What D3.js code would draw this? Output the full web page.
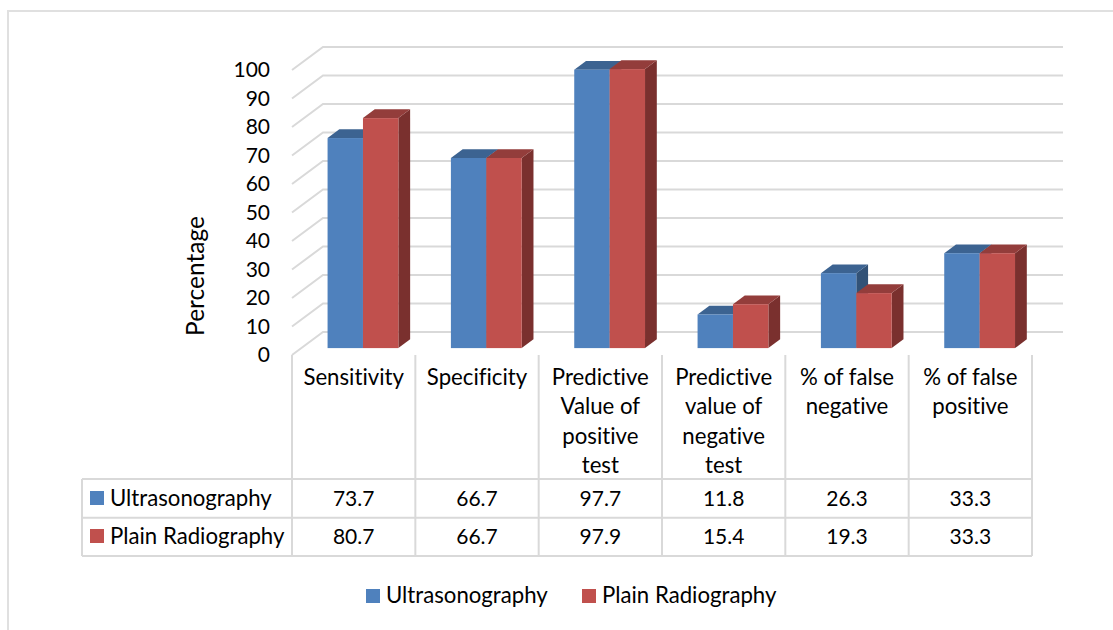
<!DOCTYPE html>
<html>
<head>
<meta charset="UTF-8">
<title>Ultrasonography vs Plain Radiography</title>
<style>
    html, body { margin: 0; padding: 0; background: #ffffff; }
    svg { display: block; font-family: Lato, sans-serif; font-variant-ligatures: none; }
    text { fill: #000000; }
</style>
</head>
<body>
<svg id="chart" width="1113" height="630"></svg>
<script src="https://d3js.org/d3.v7.min.js"></script>
<script>
    var categories = [
        ["Sensitivity"],
        ["Specificity"],
        ["Predictive", "Value of", "positive", "test"],
        ["Predictive", "value of", "negative", "test"],
        ["% of false", "negative"],
        ["% of false", "positive"]
    ];
    var seriesNames = ["Ultrasonography", "Plain Radiography"];
    var ultrasonography = [73.7, 66.7, 97.7, 11.8, 26.3, 33.3];
    var plainRadiography = [80.7, 66.7, 97.9, 15.4, 19.3, 33.3];
    var tickValues = [0, 10, 20, 30, 40, 50, 60, 70, 80, 90, 100];

    var series = [ultrasonography, plainRadiography];
    var frontColors = ["#4f81bd", "#c0504d"];
    var topColors = ["#3c6391", "#933d3b"];
    var sideColors = ["#325277", "#7a302e"];
    var gridColor = "#d9d9d9";
    var numberSize = 21;
    var labelSize = 22.2;

    var svg = d3.select("#chart");

    // outer frame of the picture, open on the right
    svg.append("path")
        .attr("d", "M8,630V11H1113")
        .attr("fill", "none")
        .attr("stroke", "#e0e0e0")
        .attr("stroke-width", 2);

    var x = d3.scaleBand().domain(d3.range(6)).range([292, 1032]);
    var y = d3.scaleLinear().domain([0, 100]).range([355, 70]);

    // depth: 0 is the front of the floor, 1 the back wall
    var depthX = 31, depthY = 23;
    function px(v, d) { return v + depthX * d; }
    function py(v, d) { return y(v) - depthY * d; }

    // walls
    var grid = svg.append("g").attr("fill", "none").attr("stroke", gridColor).attr("stroke-width", 2);
    tickValues.forEach(function(t) {
        grid.append("path")
            .attr("d", "M" + px(292, 0) + "," + py(t, 0) + "L" + px(292, 1) + "," + py(t, 1) + "H1063");
    });

    // bars
    var front = 0.3, back = 0.68;
    var barW = x.bandwidth() * 0.287;
    categories.forEach(function(c, i) {
        // red sits after blue so it covers the blue side face
        series.forEach(function(s, k) {
            var x0 = px(x(i) + x.bandwidth() / 2 + (k - 1) * barW, front);
            var x1 = x0 + barW;
            var top = py(s[i], front);
            var base = py(0, front);
            var dx = depthX * (back - front), dy = depthY * (back - front);
            var g = svg.append("g");
            g.append("path").attr("fill", sideColors[k])
                .attr("d", "M" + x1 + "," + top + "l" + dx + "," + (-dy) + "V" + (base - dy) + "L" + x1 + "," + base + "Z");
            g.append("path").attr("fill", topColors[k])
                .attr("d", "M" + x0 + "," + top + "l" + dx + "," + (-dy) + "H" + (x1 + dx) + "L" + x1 + "," + top + "Z");
            g.append("rect").attr("fill", frontColors[k])
                .attr("x", x0).attr("y", top).attr("width", barW).attr("height", base - top);
        });
    });

    // value axis labels
    var axis = svg.append("g")
        .attr("transform", "translate(270,0)")
        .call(d3.axisLeft(y).tickValues(tickValues).tickSize(0).tickPadding(0));
    axis.select(".domain").remove();
    axis.selectAll("text").attr("font-family", "Lato, sans-serif").attr("font-size", numberSize).style("fill", "#000");

    svg.append("text")
        .attr("transform", "translate(204,276) rotate(-90)")
        .attr("text-anchor", "middle")
        .attr("font-size", 24.5)
        .text("Percentage");

    // data table
    var rowY = [479, 517.7, 556];
    var table = svg.append("g").attr("fill", "none").attr("stroke", gridColor).attr("stroke-width", 2);
    d3.range(7).forEach(function(i) {
        var vx = i < 6 ? x(i) : 1032;
        table.append("path").attr("d", "M" + vx + ",355V556");
    });
    rowY.forEach(function(ry) {
        table.append("path").attr("d", "M82," + ry + "H1032");
    });
    table.append("path").attr("d", "M82,479V556");

    categories.forEach(function(lines, i) {
        var cx = x(i) + x.bandwidth() / 2;
        lines.forEach(function(line, j) {
            svg.append("text")
                .attr("x", cx).attr("y", 385 + j * 29.3)
                .attr("text-anchor", "middle")
                .attr("font-size", labelSize)
                .text(line);
        });
        series.forEach(function(s, k) {
            svg.append("text")
                .attr("x", cx).attr("y", 505.5 + k * 38)
                .attr("text-anchor", "middle")
                .attr("font-size", numberSize)
                .text(s[i].toFixed(1));
        });
    });

    seriesNames.forEach(function(name, k) {
        svg.append("rect")
            .attr("x", 90).attr("y", 491 + k * 38).attr("width", 14).attr("height", 14)
            .attr("fill", frontColors[k]);
        svg.append("text")
            .attr("x", 110).attr("y", 505.5 + k * 38)
            .attr("font-size", labelSize)
            .text(name);
    });

    // legend
    var legendX = [366, 582];
    seriesNames.forEach(function(name, k) {
        svg.append("rect")
            .attr("x", legendX[k]).attr("y", 589).attr("width", 14).attr("height", 14)
            .attr("fill", frontColors[k]);
        svg.append("text")
            .attr("x", legendX[k] + 20).attr("y", 603)
            .attr("font-size", labelSize)
            .text(name);
    });
</script>
</body>
</html>
